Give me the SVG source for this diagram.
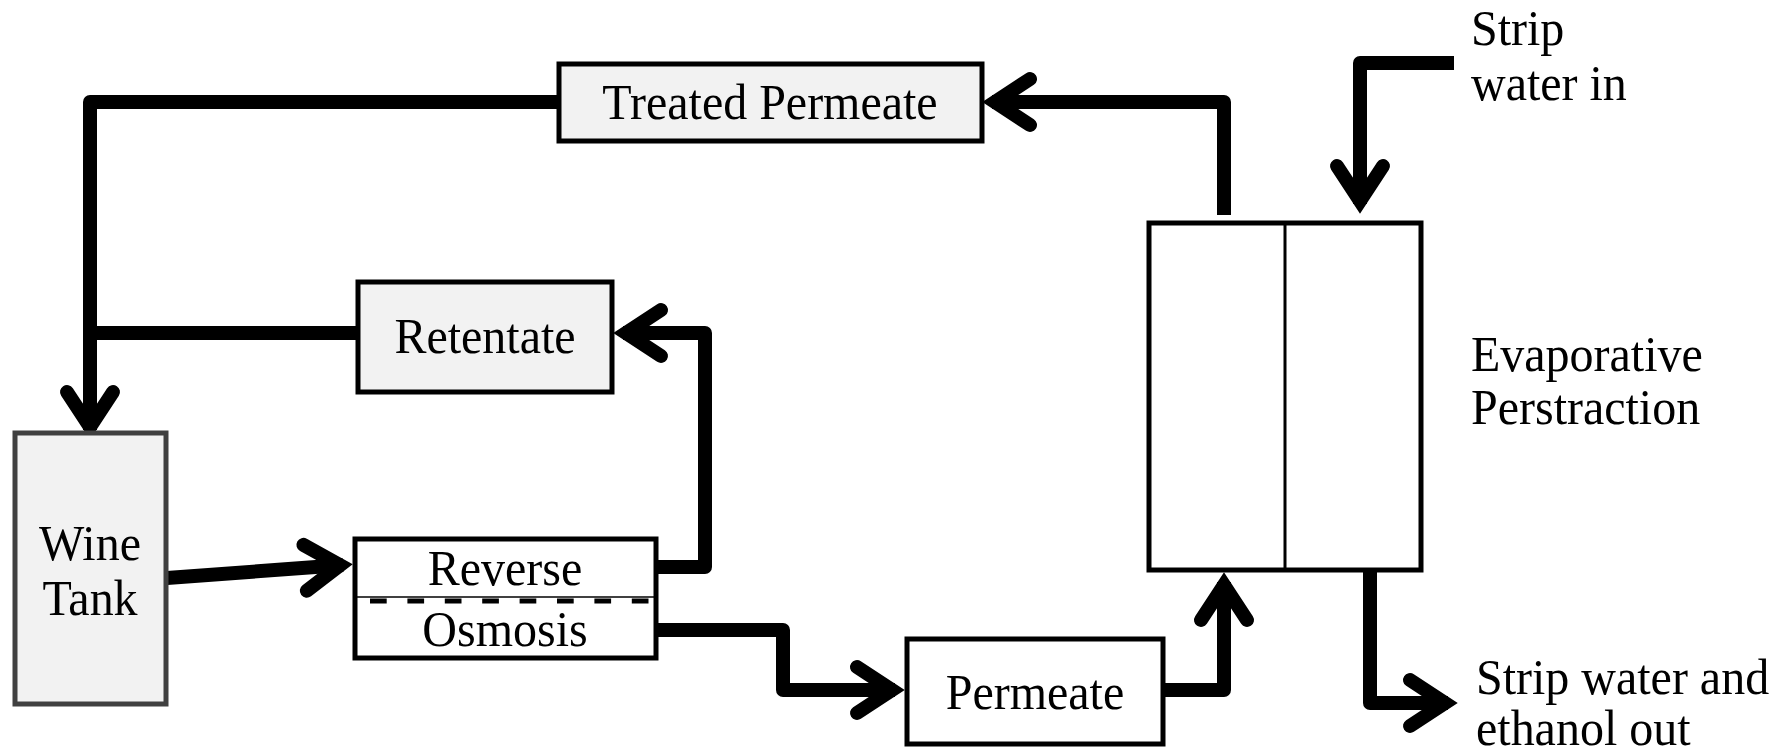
<svg xmlns="http://www.w3.org/2000/svg" width="1784" height="753" viewBox="0 0 1784 753">
<style>
.box{fill:#f2f2f2;stroke:#000;stroke-width:5}
.wbox{fill:#fff;stroke:#000;stroke-width:5}
.tank{fill:#f2f2f2;stroke:#404040;stroke-width:5}
.conn{fill:none;stroke:#000;stroke-width:14;stroke-linejoin:round}
.arr{fill:none;stroke:#000;stroke-width:14;stroke-linecap:round;stroke-linejoin:miter;stroke-miterlimit:10}
text{font-family:"Liberation Serif","Times New Roman",serif;font-size:48px;fill:#000}
.c{text-anchor:middle}
</style>
<defs>
<marker id="ah" markerUnits="userSpaceOnUse" viewBox="-60 -40 80 80" markerWidth="80" markerHeight="80" refX="0" refY="0" orient="auto" overflow="visible">
<path class="arr" d="M-38,-23 L-3,0 L-38,23"/>
</marker>
</defs>
<rect width="1784" height="753" fill="#fff"/>
<g id="connectors">
<polyline class="conn" points="557,102 90,102 90,430" marker-end="url(#ah)"/>
<line class="conn" x1="90" y1="333" x2="356" y2="333"/>
<line class="conn" x1="167" y1="578" x2="343" y2="565" marker-end="url(#ah)"/>
<polyline class="conn" points="658,567 705,567 705,333 623,333" marker-end="url(#ah)"/>
<polyline class="conn" points="658,630 783,630 783,690 895,690" marker-end="url(#ah)"/>
<polyline class="conn" points="1165,690 1224,690 1224,582" marker-end="url(#ah)"/>
<polyline class="conn" points="1224,215 1224,102 992,102" marker-end="url(#ah)"/>
<polyline class="conn" points="1454,63 1360,63 1360,204" marker-end="url(#ah)"/>
<polyline class="conn" points="1370,572 1370,703 1448,703" marker-end="url(#ah)"/>
</g>
<g id="treated-permeate">
<rect class="box" x="559" y="64" width="423" height="77"/>
<text class="c" transform="matrix(1 0 0 1.07 770 119)">Treated Permeate</text>
</g>
<g id="retentate">
<rect class="box" x="358" y="282" width="254" height="110"/>
<text class="c" transform="matrix(1 0 0 1.07 485 353)">Retentate</text>
</g>
<g id="wine-tank">
<rect class="tank" x="15" y="433" width="151" height="271"/>
<text class="c" transform="matrix(1 0 0 1.07 90 560)">Wine</text>
<text class="c" transform="matrix(1 0 0 1.07 90 615)">Tank</text>
</g>
<g id="reverse-osmosis">
<rect class="wbox" x="355" y="539" width="301" height="119"/>
<line x1="357" y1="597" x2="654" y2="597" stroke="#000" stroke-width="1.5"/>
<line x1="370" y1="601" x2="654" y2="601" stroke="#000" stroke-width="5" stroke-dasharray="16.7 20.7"/>
<text class="c" transform="matrix(1 0 0 1.07 505 585)">Reverse</text>
<text class="c" transform="matrix(1 0 0 1.07 505 646)">Osmosis</text>
</g>
<g id="permeate">
<rect class="wbox" x="907" y="639" width="256" height="105"/>
<text class="c" transform="matrix(1 0 0 1.07 1035 709)">Permeate</text>
</g>
<g id="evaporative-perstraction">
<rect class="wbox" x="1149" y="223" width="272" height="347"/>
<line x1="1285" y1="223" x2="1285" y2="570" stroke="#000" stroke-width="3"/>
<text transform="matrix(1 0 0 1.07 1471 371)">Evaporative</text>
<text transform="matrix(1 0 0 1.07 1471 424)">Perstraction</text>
</g>
<g id="strip-in">
<text transform="matrix(1 0 0 1.07 1471 45)">Strip</text>
<text transform="matrix(1 0 0 1.07 1471 100)">water in</text>
</g>
<g id="strip-out">
<text transform="matrix(1 0 0 1.07 1476 694)">Strip water and</text>
<text transform="matrix(1 0 0 1.07 1476 745)">ethanol out</text>
</g>
</svg>
